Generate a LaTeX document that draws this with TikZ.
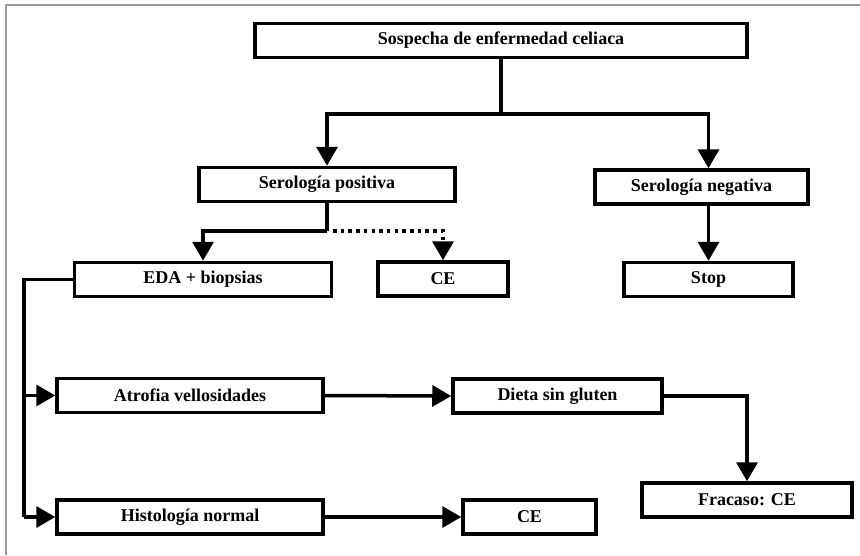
\documentclass[tikz,border=0pt]{standalone}
\usepackage{fontspec}
\setmainfont{Liberation Serif}
\usetikzlibrary{arrows.meta}
\tikzset{
  box/.style={draw, line width=3.5pt, minimum height=34pt, inner sep=0pt,
    font=\fontsize{18}{21}\selectfont\bfseries},
  arr/.style={line width=3.5pt, -{Triangle[width=21pt,length=19pt]}},
  link/.style={line width=3.5pt}
}

\begin{document}
\begin{tikzpicture}[x=1pt,y=-1pt]
  \useasboundingbox (0,0) rectangle (860,555);
  % frame of the figure
  \draw[gray!80, line width=1.5pt] (6,555) -- (6,5) -- (860,5);

  \node[box, minimum width=492pt] (sospecha) at (501,40.5) {Sospecha de enfermedad celiaca};
  \node[box, minimum width=256pt] (serpos) at (327,184.5) {Serolog\'ia positiva};
  \node[box, minimum width=213pt] (serneg) at (701.5,187) {Serolog\'ia negativa};
  \node[box, minimum width=257pt] (eda) at (203,279.5) {EDA + biopsias};
  \node[box, minimum width=130pt] (cea) at (443,279) {CE};
  \node[box, minimum width=169pt] (stop) at (708.5,279.5) {Stop};
  \node[box, minimum width=266pt] (atrofia) at (190,395.5) {Atrofia vellosidades};
  \node[box, minimum width=209pt] (dieta) at (557.5,396) {Dieta sin gluten};
  \node[box, minimum width=266pt] (histo) at (190,517) {Histolog\'ia normal};
  \node[box, minimum width=133pt] (ceb) at (529.5,517) {CE};
  \node[box, minimum width=210pt] (fracaso) at (747,500) {Fracaso: CE};

  % first split
  \coordinate (j1) at (sospecha.south |- 0,114);
  \draw[link] (sospecha.south) -- (j1);
  \draw[arr] (j1) -| (serpos.north);
  \draw[arr] (j1) -| (stop.north |- serneg.north);
  \draw[arr] (stop.north |- serneg.south) -- (stop.north);

  % after positive serology
  \coordinate (j2) at (serpos.south |- 0,231);
  \draw[link] (serpos.south) -- (j2);
  \draw[arr] (j2) -| (eda.north);
  \draw[arr, dash pattern=on 3.5pt off 4.2pt] ([xshift=6pt]j2) -| (cea.north);

  % biopsy results
  \coordinate (j3) at (24,0 |- eda.west);
  \draw[link] (eda.west) -- (j3) -- (j3 |- histo.west);
  \draw[arr] (j3 |- atrofia.west) -- (atrofia.west);
  \draw[arr] (j3 |- histo.west) -- (histo.west);
  \draw[arr] (atrofia.east) -- (dieta.west);
  \draw[arr] (dieta.east) -| (fracaso.north);
  \draw[arr] (histo.east) -- (ceb.west);
\end{tikzpicture}
\end{document}
